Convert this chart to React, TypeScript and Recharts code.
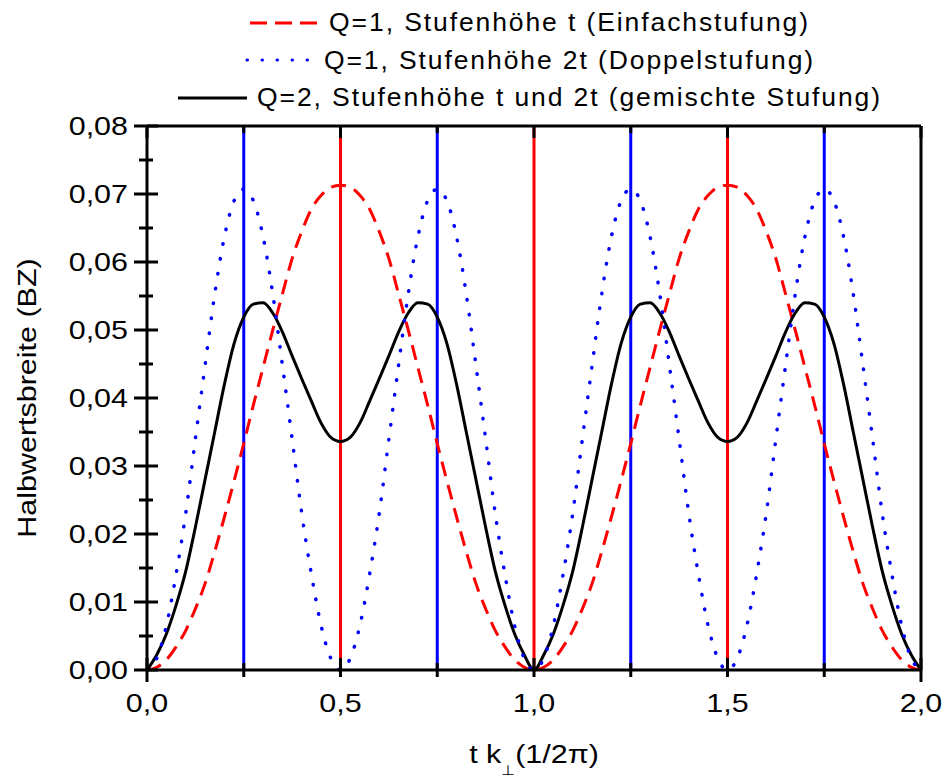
import React from 'react';
import { LineChart, Line, XAxis, YAxis, ReferenceLine, Legend, Label } from 'recharts';

const FONT = '"Liberation Sans", Arial, Helvetica, sans-serif';
const STRETCH = 1.15;
const FS = 26.5;

// t k_perp in units of 2pi
const tk = [
  0, 0.025, 0.05, 0.075, 0.1, 0.125, 0.15, 0.175, 0.2, 0.225,
  0.25, 0.275, 0.3, 0.325, 0.35, 0.375, 0.4, 0.425, 0.45, 0.475,
  0.5, 0.525, 0.55, 0.575, 0.6, 0.625, 0.65, 0.675, 0.7, 0.725,
  0.75, 0.775, 0.8, 0.825, 0.85, 0.875, 0.9, 0.925, 0.95, 0.975,
  1, 1.025, 1.05, 1.075, 1.1, 1.125, 1.15, 1.175, 1.2, 1.225,
  1.25, 1.275, 1.3, 1.325, 1.35, 1.375, 1.4, 1.425, 1.45, 1.475,
  1.5, 1.525, 1.55, 1.575, 1.6, 1.625, 1.65, 1.675, 1.7, 1.725,
  1.75, 1.775, 1.8, 1.825, 1.85, 1.875, 1.9, 1.925, 1.95, 1.975,
  2,
];

// Q=1, Stufenhöhe t
const einfach = [
  0, 0.0004, 0.0015, 0.0034, 0.0058, 0.009, 0.0127, 0.0174, 0.0225, 0.0278,
  0.0333, 0.039, 0.0445, 0.05, 0.0553, 0.0605, 0.0645, 0.0678, 0.0698, 0.071,
  0.0713, 0.071, 0.0698, 0.0678, 0.0645, 0.0605, 0.0553, 0.05, 0.0445, 0.039,
  0.0333, 0.0278, 0.0225, 0.0174, 0.0127, 0.009, 0.0058, 0.0034, 0.0015, 0.0004,
  0, 0.0004, 0.0015, 0.0034, 0.0058, 0.009, 0.0127, 0.0174, 0.0225, 0.0278,
  0.0333, 0.039, 0.0445, 0.05, 0.0553, 0.0605, 0.0645, 0.0678, 0.0698, 0.071,
  0.0713, 0.071, 0.0698, 0.0678, 0.0645, 0.0605, 0.0553, 0.05, 0.0445, 0.039,
  0.0333, 0.0278, 0.0225, 0.0174, 0.0127, 0.009, 0.0058, 0.0034, 0.0015, 0.0004,
  0,
];

// Q=1, Stufenhöhe 2t
const doppel = [
  0, 0.0017, 0.0065, 0.014, 0.023, 0.034, 0.0448, 0.0553, 0.0637, 0.069,
  0.0707, 0.069, 0.0637, 0.0553, 0.0448, 0.034, 0.023, 0.014, 0.0065, 0.0017,
  0, 0.0017, 0.0065, 0.014, 0.023, 0.034, 0.0448, 0.0553, 0.0637, 0.069,
  0.0707, 0.069, 0.0637, 0.0553, 0.0448, 0.034, 0.023, 0.014, 0.0065, 0.0017,
  0, 0.0017, 0.0065, 0.014, 0.023, 0.034, 0.0448, 0.0553, 0.0637, 0.069,
  0.0707, 0.069, 0.0637, 0.0553, 0.0448, 0.034, 0.023, 0.014, 0.0065, 0.0017,
  0, 0.0017, 0.0065, 0.014, 0.023, 0.034, 0.0448, 0.0553, 0.0637, 0.069,
  0.0707, 0.069, 0.0637, 0.0553, 0.0448, 0.034, 0.023, 0.014, 0.0065, 0.0017,
  0,
];

// Q=2, gemischte Stufung
const gemischt = [
  0, 0.0022, 0.0053, 0.0095, 0.0145, 0.021, 0.028, 0.035, 0.042, 0.048,
  0.0519, 0.0538, 0.054, 0.0525, 0.0497, 0.0462, 0.0428, 0.0395, 0.0363, 0.0342,
  0.0336, 0.0342, 0.0363, 0.0395, 0.0428, 0.0462, 0.0497, 0.0525, 0.054, 0.0538,
  0.0519, 0.048, 0.042, 0.035, 0.028, 0.021, 0.0145, 0.0095, 0.0053, 0.0022,
  0, 0.0022, 0.0053, 0.0095, 0.0145, 0.021, 0.028, 0.035, 0.042, 0.048,
  0.0519, 0.0538, 0.054, 0.0525, 0.0497, 0.0462, 0.0428, 0.0395, 0.0363, 0.0342,
  0.0336, 0.0342, 0.0363, 0.0395, 0.0428, 0.0462, 0.0497, 0.0525, 0.054, 0.0538,
  0.0519, 0.048, 0.042, 0.035, 0.028, 0.021, 0.0145, 0.0095, 0.0053, 0.0022,
  0,
];

const xTicks = [0, 0.25, 0.5, 0.75, 1, 1.25, 1.5, 1.75, 2];
const yTicks = [
  0, 0.005, 0.01, 0.015, 0.02, 0.025, 0.03, 0.035, 0.04,
  0.045, 0.05, 0.055, 0.06, 0.065, 0.07, 0.075, 0.08,
];
const blueMarks = [0.25, 0.75, 1.25, 1.75];
const redMarks = [0.5, 1, 1.5];

const legendItems = [
  { label: 'Q=1, Stufenhöhe t (Einfachstufung)', color: '#ff0000', dash: '17 8', cap: 'butt' },
  { label: 'Q=1, Stufenhöhe 2t (Doppelstufung)', color: '#0000ff', dash: '0.5 14.5', cap: 'round' },
  { label: 'Q=2, Stufenhöhe t und 2t (gemischte Stufung)', color: '#000000', dash: undefined, cap: 'butt' },
];

const data = tk.map((x, i) => ({
  x,
  einfach: einfach[i],
  doppel: doppel[i],
  gemischt: gemischt[i],
}));

const isMajorX = (v: number) => Math.abs(v * 2 - Math.round(v * 2)) < 1e-6;
const isMajorY = (v: number) => Math.abs(v * 100 - Math.round(v * 100)) < 1e-6;

const BottomTick = (props: any) => {
  const { x, y, payload } = props;
  const v = payload.value;
  const major = isMajorX(v);
  const out = v === 0 || v === 2 ? 12 : 7;
  return (
    <g>
      <line x1={x} x2={x} y1={y - (major ? 12 : 7)} y2={y + out} stroke="#000" strokeWidth={3} />
      {major && (
        <text
          transform={`translate(${x},${y + 42}) scale(${STRETCH},1)`}
          textAnchor="middle"
          fontSize={FS}
          fontFamily={FONT}
          fill="#000"
        >
          {v.toFixed(1).replace('.', ',')}
        </text>
      )}
    </g>
  );
};

const TopTick = (props: any) => {
  const { x, y, payload } = props;
  const major = isMajorX(payload.value);
  return <line x1={x} x2={x} y1={y} y2={y + (major ? 12 : 7)} stroke="#000" strokeWidth={3} />;
};

const LeftTick = (props: any) => {
  const { x, y, payload } = props;
  const v = payload.value;
  const major = isMajorY(v);
  return (
    <g>
      <line x1={x - (major ? 13 : 8)} x2={x + (major ? 11 : 6)} y1={y} y2={y} stroke="#000" strokeWidth={3} />
      {major && (
        <text
          transform={`translate(${x - 19},${y + 9}) scale(${STRETCH},1)`}
          textAnchor="end"
          fontSize={FS}
          fontFamily={FONT}
          fill="#000"
        >
          {v.toFixed(2).replace('.', ',')}
        </text>
      )}
    </g>
  );
};

const RightTick = (props: any) => {
  const { x, y, payload } = props;
  const major = isMajorY(payload.value);
  return <line x1={x - (major ? 13 : 7)} x2={x} y1={y} y2={y} stroke="#000" strokeWidth={3} />;
};

const XTitle = (props: any) => {
  const { x, y, width } = props.viewBox;
  return (
    <text
      transform={`translate(${x + width / 2},${y + 93}) scale(${STRETCH},1)`}
      textAnchor="middle"
      fontSize={FS}
      fontFamily={FONT}
      fill="#000"
    >
      t k
      <tspan fontSize={14} dy={12}>⊥</tspan>
      <tspan dy={-12}>(1/2π)</tspan>
    </text>
  );
};

const YTitle = (props: any) => {
  const { x, y, height } = props.viewBox;
  return (
    <text
      transform={`translate(${x + 36},${y + height / 2}) rotate(-90) scale(${STRETCH},1)`}
      textAnchor="middle"
      fontSize={FS}
      fontFamily={FONT}
      fill="#000"
    >
      Halbwertsbreite (BZ)
    </text>
  );
};

const renderLegend = () => (
  <div style={{ fontFamily: FONT, fontSize: FS, letterSpacing: '1.9px', color: '#000' }}>
    {legendItems.map((item) => (
      <div
        key={item.label}
        style={{
          display: 'flex',
          alignItems: 'center',
          justifyContent: 'center',
          height: 37.5,
          whiteSpace: 'nowrap',
        }}
      >
        <svg width={69} height={10} style={{ marginRight: 10, flex: 'none' }}>
          <line
            x1={item.cap === 'round' ? 2 : 0}
            x2={69}
            y1={5}
            y2={5}
            stroke={item.color}
            strokeWidth={3}
            strokeDasharray={item.dash}
            strokeLinecap={item.cap as any}
          />
        </svg>
        <span style={{ lineHeight: '37.5px' }}>{item.label}</span>
      </div>
    ))}
  </div>
);

export default function App() {
  return (
    <div style={{ position: 'absolute', left: 0, top: 0, background: '#fff' }}>
      <LineChart width={945} height={777} data={data} margin={{ top: 0, right: 0, bottom: 0, left: 0 }}>
        <Legend
          content={renderLegend}
          layout="horizontal"
          verticalAlign="middle"
          align="center"
          wrapperStyle={{ top: 4, left: 115, width: 830, height: 115 }}
        />
        {blueMarks.map((m) => (
          <ReferenceLine key={`b${m}`} x={m} xAxisId="bottom" yAxisId="left" stroke="#0000ff" strokeWidth={3} />
        ))}
        {redMarks.map((m) => (
          <ReferenceLine key={`r${m}`} x={m} xAxisId="bottom" yAxisId="left" stroke="#ff0000" strokeWidth={3} />
        ))}
        <Line
          xAxisId="bottom"
          yAxisId="left"
          type="monotone"
          dataKey="einfach"
          stroke="#ff0000"
          strokeWidth={3}
          strokeDasharray="15 9"
          dot={false}
          activeDot={false}
          isAnimationActive={false}
        />
        <Line
          xAxisId="bottom"
          yAxisId="left"
          type="monotone"
          dataKey="gemischt"
          stroke="#000000"
          strokeWidth={3}
          dot={false}
          activeDot={false}
          isAnimationActive={false}
        />
        <Line
          xAxisId="bottom"
          yAxisId="left"
          type="monotone"
          dataKey="doppel"
          stroke="#0000ff"
          strokeWidth={3.5}
          strokeDasharray="0.5 14.5"
          strokeLinecap="round"
          dot={false}
          activeDot={false}
          isAnimationActive={false}
        />
        <XAxis
          xAxisId="bottom"
          type="number"
          dataKey="x"
          domain={[0, 2]}
          ticks={xTicks}
          interval={0}
          height={107}
          tickSize={0}
          tickMargin={0}
          tickLine={false}
          axisLine={{ stroke: '#000', strokeWidth: 3 }}
          tick={BottomTick}
        >
          <Label content={XTitle} />
        </XAxis>
        <XAxis
          xAxisId="top"
          orientation="top"
          type="number"
          dataKey="x"
          domain={[0, 2]}
          ticks={xTicks}
          interval={0}
          height={126}
          tickSize={0}
          tickMargin={0}
          tickLine={false}
          axisLine={{ stroke: '#000', strokeWidth: 3 }}
          tick={TopTick}
        />
        <YAxis
          yAxisId="left"
          type="number"
          domain={[0, 0.08]}
          ticks={yTicks}
          interval={0}
          width={147}
          tickSize={0}
          tickMargin={0}
          tickLine={false}
          axisLine={{ stroke: '#000', strokeWidth: 3 }}
          tick={LeftTick}
        >
          <Label content={YTitle} />
        </YAxis>
        <YAxis
          yAxisId="right"
          orientation="right"
          type="number"
          domain={[0, 0.08]}
          ticks={yTicks}
          interval={0}
          width={24}
          tickSize={0}
          tickMargin={0}
          tickLine={false}
          axisLine={{ stroke: '#000', strokeWidth: 3 }}
          tick={RightTick}
        />
      </LineChart>
    </div>
  );
}
